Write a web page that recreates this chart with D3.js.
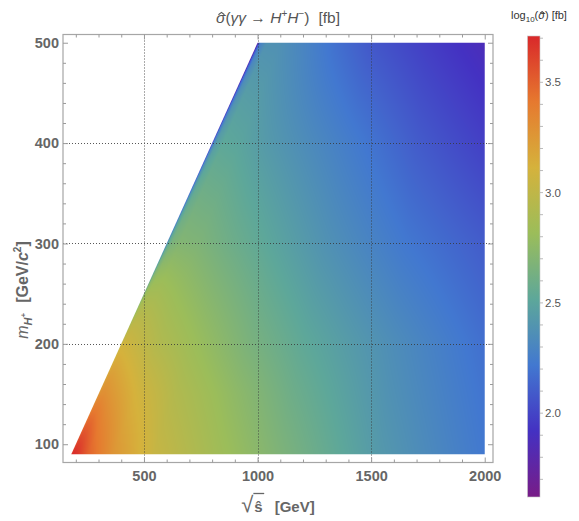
<!DOCTYPE html>
<html><head><meta charset="utf-8">
<script src="https://cdn.jsdelivr.net/npm/d3@7"></script>
<style>
body{margin:0;background:#fff;}
svg{display:block;font-family:"Liberation Sans",Arial,Helvetica,sans-serif;}
</style>
</head><body>
<script>
// log10 of the γγ → H+H− cross-section [fb], sampled on rows of fixed charged-Higgs mass.
// Columns are fractions of each row's kinematic range, from threshold (√ŝ = 2 m) to √ŝ = 2000 GeV.
const massRows = [90, 150, 200, 300, 400, 500];
const rangeFrac = [0, 0.005, 0.015, 0.04, 0.1, 0.2, 0.35, 0.5, 0.75, 1];
const log10Sigma = [
  [3.66, 3.70, 3.66, 3.50, 3.27, 3.04, 2.85, 2.68, 2.42, 2.22],
  [3.25, 3.30, 3.30, 3.24, 3.10, 2.93, 2.76, 2.60, 2.38, 2.20],
  [3.02, 3.08, 3.07, 3.03, 2.93, 2.82, 2.66, 2.53, 2.35, 2.18],
  [2.30, 2.55, 2.66, 2.70, 2.68, 2.60, 2.49, 2.38, 2.22, 2.10],
  [1.95, 2.30, 2.45, 2.52, 2.50, 2.43, 2.34, 2.25, 2.10, 1.98],
  [1.72, 2.05, 2.28, 2.38, 2.37, 2.30, 2.18, 2.08, 1.97, 1.87]
];
const sqrtSMax = 2000;
const xMajorTicks = [500, 1000, 1500, 2000];
const yMajorTicks = [100, 200, 300, 400, 500];
const xGridLines = [500, 1000, 1500];
const yGridLines = [200, 300, 400];
const legendTicks = [2.0, 2.5, 3.0, 3.5];
const legendRange = [1.62, 3.71];
const paletteStops = ["#781c87", "#4431c2", "#4278d0", "#5da79a", "#9bbd5a", "#d5b23c", "#e6792f", "#d9282a"];

const W = 579, H = 521;
const frame = {left: 63, right: 493, top: 34.5, bottom: 462.5};
const massMin = massRows[0], massMax = massRows[massRows.length - 1];
const xExtent = [2 * massMin, sqrtSMax], yExtent = [massMin, massMax];
const padFrac = 0.02;
const padded = e => [e[0] - padFrac * (e[1] - e[0]), e[1] + padFrac * (e[1] - e[0])];

const xs = d3.scaleLinear().domain(padded(xExtent)).range([frame.left, frame.right]);
const ys = d3.scaleLinear().domain(padded(yExtent)).range([frame.bottom, frame.top]);

const color = d3.scaleLinear()
  .domain(paletteStops.map((_, i) => legendRange[0] + i * (legendRange[1] - legendRange[0]) / (paletteStops.length - 1)))
  .range(paletteStops)
  .interpolate(d3.interpolateRgb)
  .clamp(true);

const clamp = (v, a, b) => Math.max(a, Math.min(b, v));
function rowValue(r, t) {
  let j = clamp(d3.bisectRight(rangeFrac, t) - 1, 0, rangeFrac.length - 2);
  const f = (t - rangeFrac[j]) / (rangeFrac[j + 1] - rangeFrac[j]);
  return log10Sigma[r][j] + f * (log10Sigma[r][j + 1] - log10Sigma[r][j]);
}
function valueAt(s, m) {
  m = clamp(m, massMin, massMax);
  const r = clamp(d3.bisectRight(massRows, m) - 1, 0, massRows.length - 2);
  const fm = (m - massRows[r]) / (massRows[r + 1] - massRows[r]);
  const t = clamp((s - 2 * m) / (sqrtSMax - 2 * m), 0, 1);
  const a = rowValue(r, t), b = rowValue(r + 1, t);
  return a + fm * (b - a);
}

const svg = d3.select("body").append("svg").attr("width", W).attr("height", H);
const defs = svg.append("defs");

// density raster over the kinematically allowed region
const px0 = Math.floor(xs(xExtent[0])) - 1, px1 = Math.ceil(xs(xExtent[1])) + 1;
const py0 = Math.floor(ys(yExtent[1])) - 1, py1 = Math.ceil(ys(yExtent[0])) + 1;
const cw = px1 - px0, ch = py1 - py0;
const canvas = document.createElement("canvas");
canvas.width = cw; canvas.height = ch;
const ctx = canvas.getContext("2d");
const img = ctx.createImageData(cw, ch);
for (let j = 0; j < ch; j++) {
  const m = ys.invert(py0 + j + 0.5);
  for (let i = 0; i < cw; i++) {
    const s = xs.invert(px0 + i + 0.5);
    const c = d3.rgb(color(valueAt(s, m)));
    const k = 4 * (j * cw + i);
    img.data[k] = c.r; img.data[k + 1] = c.g; img.data[k + 2] = c.b; img.data[k + 3] = 255;
  }
}
ctx.putImageData(img, 0, 0);

const domainPoly = [[2 * massMin, massMin], [sqrtSMax, massMin], [sqrtSMax, massMax], [2 * massMax, massMax]];
defs.append("clipPath").attr("id", "allowed")
  .append("path").attr("d", d3.line()(domainPoly.map(([s, m]) => [xs(s), ys(m)])) + "Z");
svg.append("image")
  .attr("x", px0).attr("y", py0).attr("width", cw).attr("height", ch)
  .attr("preserveAspectRatio", "none")
  .attr("href", canvas.toDataURL())
  .attr("clip-path", "url(#allowed)");

// dotted grid
const grid = svg.append("g").attr("stroke", "#3a3a3a").attr("stroke-width", 1).attr("stroke-dasharray", "1,2").attr("opacity", 0.85);
xGridLines.forEach(v => {
  const x = Math.round(xs(v)) + 0.5;
  grid.append("line").attr("x1", x).attr("x2", x).attr("y1", frame.top).attr("y2", frame.bottom);
});
yGridLines.forEach(v => {
  const y = Math.round(ys(v)) + 0.5;
  grid.append("line").attr("x1", frame.left).attr("x2", frame.right).attr("y1", y).attr("y2", y);
});

// frame
svg.append("rect").attr("x", frame.left).attr("y", frame.top)
  .attr("width", frame.right - frame.left).attr("height", frame.bottom - frame.top)
  .attr("fill", "none").attr("stroke", "#a6a6a6").attr("stroke-width", 1.2);

const xMinor = d3.range(200, 2001, 100).filter(v => !xMajorTicks.includes(v));
const yMinor = d3.range(100, 501, 20).filter(v => !yMajorTicks.includes(v));
const tickColor = "#9a9a9a";
function styleAxis(g) {
  g.select(".domain").remove();
  g.selectAll(".tick line").attr("stroke", tickColor);
  g.selectAll(".tick text").attr("fill", "#666").attr("font-weight", "bold").attr("font-size", 14.5)
    .attr("font-family", "Liberation Sans, Arial, sans-serif");
}
svg.append("g").attr("transform", `translate(0,${frame.bottom})`)
  .call(d3.axisBottom(xs).tickValues(xMajorTicks).tickSize(-5).tickPadding(8).tickFormat(d3.format("d"))).call(styleAxis);
svg.append("g").attr("transform", `translate(0,${frame.bottom})`)
  .call(d3.axisBottom(xs).tickValues(xMinor).tickSize(-3).tickFormat("")).call(styleAxis);
svg.append("g").attr("transform", `translate(0,${frame.top})`)
  .call(d3.axisTop(xs).tickValues(xMajorTicks).tickSize(-5).tickFormat("")).call(styleAxis);
svg.append("g").attr("transform", `translate(0,${frame.top})`)
  .call(d3.axisTop(xs).tickValues(xMinor).tickSize(-3).tickFormat("")).call(styleAxis);
svg.append("g").attr("transform", `translate(${frame.left},0)`)
  .call(d3.axisLeft(ys).tickValues(yMajorTicks).tickSize(-5).tickPadding(4).tickFormat(d3.format("d"))).call(styleAxis);
svg.append("g").attr("transform", `translate(${frame.left},0)`)
  .call(d3.axisLeft(ys).tickValues(yMinor).tickSize(-3).tickFormat("")).call(styleAxis);
svg.append("g").attr("transform", `translate(${frame.right},0)`)
  .call(d3.axisRight(ys).tickValues(yMajorTicks).tickSize(-5).tickFormat("")).call(styleAxis);
svg.append("g").attr("transform", `translate(${frame.right},0)`)
  .call(d3.axisRight(ys).tickValues(yMinor).tickSize(-3).tickFormat("")).call(styleAxis);

// places a small circumflex over the first glyph of a tspan
function hatOver(parent, tspan, color, size, lift) {
  const b = tspan.node().getExtentOfChar(0);
  const cx = b.x + b.width * 0.58, top = b.y + b.height * lift;
  parent.append("path")
    .attr("d", `M${cx - size},${top + size * 0.8}L${cx},${top}L${cx + size},${top + size * 0.8}`)
    .attr("fill", "none").attr("stroke", color).attr("stroke-width", 1.1);
}

// title
const titleG = svg.append("g");
const title = titleG.append("text").attr("x", 278).attr("y", 23).attr("text-anchor", "middle")
  .attr("fill", "#555").attr("font-size", 15.5);
const sigT = title.append("tspan").attr("font-style", "italic").text("σ");
title.append("tspan").text("(");
title.append("tspan").attr("font-style", "italic").text("γγ");
title.append("tspan").text(" → ");
title.append("tspan").attr("font-style", "italic").text("H");
title.append("tspan").attr("font-size", 10).attr("dy", -6).text("+");
title.append("tspan").attr("font-style", "italic").attr("dy", 6).text("H");
title.append("tspan").attr("font-size", 10).attr("dy", -6).text("−");
title.append("tspan").attr("dy", 6).text(")");
title.append("tspan").attr("dx", 9).text("[fb]");
hatOver(titleG, sigT, "#555", 3, 0.2);

// x label: √ŝ with a radical bar
const xl = svg.append("g").attr("fill", "#666").attr("font-weight", "bold");
const xlab = xl.append("text").attr("x", 278).attr("y", 512).attr("text-anchor", "middle").attr("font-size", 15);
xlab.append("tspan").attr("font-size", 22).attr("font-weight", "normal").text("√");
const sHat = xlab.append("tspan").attr("dx", 1).text("ŝ");
xlab.append("tspan").attr("dx", 12).text("[GeV]");
const sb = sHat.node().getExtentOfChar(0);
xl.append("line").attr("x1", sb.x - 1).attr("x2", sb.x + sb.width + 1.5)
  .attr("y1", 493.5).attr("y2", 493.5).attr("stroke", "#666").attr("stroke-width", 1.3);

// y label
const yl = svg.append("text").attr("transform", "translate(28,290) rotate(-90)")
  .attr("text-anchor", "middle").attr("fill", "#666").attr("font-weight", "bold").attr("font-size", 16);
yl.append("tspan").attr("font-style", "italic").attr("font-weight", "normal").text("m");
yl.append("tspan").attr("font-style", "italic").attr("font-size", 11).attr("dy", 4).text("H");
yl.append("tspan").attr("font-size", 8).attr("dy", -6).text("+");
yl.append("tspan").attr("dx", 10).attr("dy", 2).text("[GeV/");
yl.append("tspan").attr("font-style", "italic").text("c");
yl.append("tspan").attr("font-size", 10).attr("dy", -7).text("2");
yl.append("tspan").attr("dy", 7).text("]");

// colour bar legend
const cb = {x: 527.5, w: 12.5, top: 36, bottom: 497};
const cbScale = d3.scaleLinear().domain(legendRange).range([cb.bottom, cb.top]);
const grad = defs.append("linearGradient").attr("id", "cbGrad")
  .attr("x1", 0).attr("y1", 1).attr("x2", 0).attr("y2", 0);
paletteStops.forEach((c, i) => grad.append("stop")
  .attr("offset", i / (paletteStops.length - 1)).attr("stop-color", c));
svg.append("rect").attr("x", cb.x).attr("y", cb.top).attr("width", cb.w).attr("height", cb.bottom - cb.top)
  .attr("fill", "url(#cbGrad)").attr("stroke", "#c8c8c8").attr("stroke-width", 0.6);
const cbMinor = d3.range(17, 38).map(v => v / 10).filter(v => v >= legendRange[0] && v <= legendRange[1]);
svg.append("g").selectAll("line").data(cbMinor).join("line")
  .attr("x1", cb.x + cb.w).attr("x2", cb.x + cb.w + 3)
  .attr("y1", d => cbScale(d)).attr("y2", d => cbScale(d))
  .attr("stroke", "#aaa").attr("stroke-width", 0.8);
svg.append("g").selectAll("text").data(legendTicks).join("text")
  .attr("x", cb.x + cb.w + 5).attr("y", d => cbScale(d) + 4)
  .attr("fill", "#555").attr("font-size", 11.5).text(d => d.toFixed(1));

const cbG = svg.append("g");
const cbt = cbG.append("text").attr("x", 511).attr("y", 19).attr("fill", "#333").attr("font-size", 11);
cbt.append("tspan").text("log");
cbt.append("tspan").attr("font-size", 8).attr("dy", 3).text("10");
cbt.append("tspan").attr("dy", -3).text("(");
const sigC = cbt.append("tspan").attr("font-style", "italic").text("σ");
cbt.append("tspan").text(") [fb]");
hatOver(cbG, sigC, "#333", 2.2, 0.22);
</script>
</body></html>
